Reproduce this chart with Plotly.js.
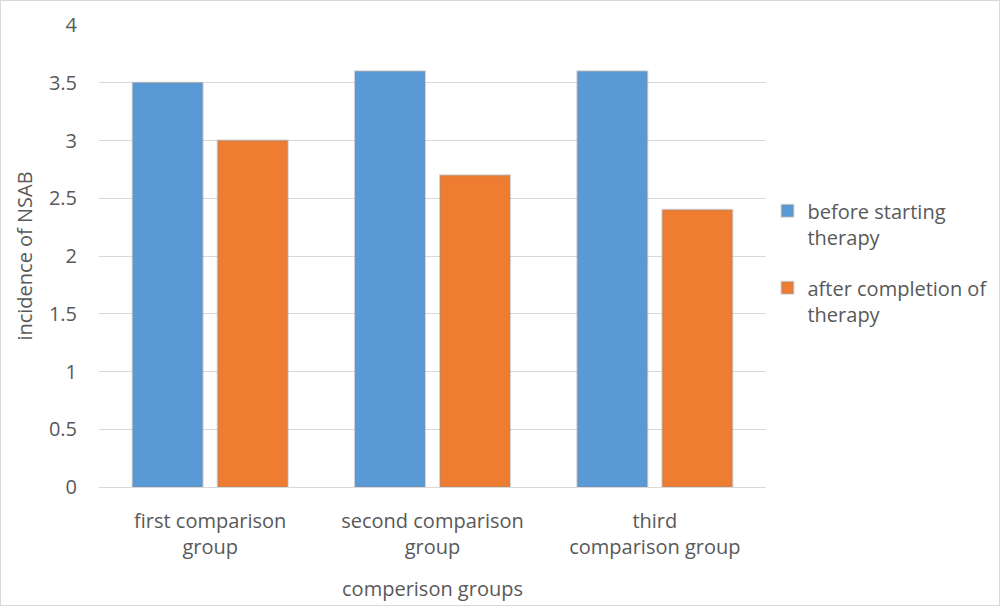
<!DOCTYPE html>
<html>
<head>
<meta charset="utf-8">
<script src="https://cdn.plot.ly/plotly-3.0.1.min.js"></script>
<style>
html,body{margin:0;padding:0;background:#fff;}
#chart{width:1000px;height:606px;box-sizing:border-box;border:1px solid #d9d9d9;}
</style>
</head>
<body>
<div id="chart"></div>
<script>
const categories = ["first comparison<br>group", "second comparison<br>group", "third<br>comparison group"];
const seriesNames = ["before starting<br>therapy", "after completion of<br>therapy"];
const beforeValues = [3.5, 3.6, 3.6];
const afterValues = [3.0, 2.7, 2.4];
const yTickVals = [0, 0.5, 1, 1.5, 2, 2.5, 3, 3.5, 4];
const yTickText = ["0", "0.5", "1", "1.5", "2", "2.5", "3", "3.5", "4"];

const fontFam = "'Open Sans', Lato, sans-serif";
const fsz = 20;
const txtCol = '#595959';
const shadow = {color: 'rgba(140,140,140,0.35)', width: 2};

const traces = [
  {type: 'bar', x: categories, y: beforeValues, name: seriesNames[0], legendgroup: 'a',
   marker: {color: '#5899d6', line: shadow}, hoverinfo: 'skip'},
  {type: 'bar', x: categories, y: afterValues, name: seriesNames[1], legendgroup: 'b',
   marker: {color: '#ee7d32', line: shadow}, hoverinfo: 'skip'}
];

const layout = {
  width: 998, height: 604,
  margin: {l: 98, r: 233, t: 24, b: 118},
  paper_bgcolor: '#fff', plot_bgcolor: '#fff',
  font: {family: fontFam, size: fsz, color: txtCol},
  barmode: 'group', bargap: 0.235, bargroupgap: 0.176,
  showlegend: true,
  legend: {xref: 'container', yref: 'paper', x: 0.768, y: 0.64, xanchor: 'left', yanchor: 'top',
           traceorder: 'grouped', tracegroupgap: 22, valign: 'top',
           font: {family: fontFam, size: fsz, color: txtCol},
           itemwidth: 30, bgcolor: 'rgba(0,0,0,0)'},
  xaxis: {
    type: 'category', showgrid: false, showline: true, linecolor: '#d9d9d9', linewidth: 1,
    ticks: '', ticklabelstandoff: 16, tickfont: {family: fontFam, size: fsz, color: txtCol},
    title: {text: 'comperison groups', font: {family: fontFam, size: fsz, color: txtCol}, standoff: 22},
    automargin: false
  },
  yaxis: {
    range: [0, 4], tickvals: yTickVals, ticktext: yTickText,
    showgrid: true, gridcolor: '#d9d9d9', gridwidth: 1, zeroline: false,
    showline: false, ticks: '', ticklabelstandoff: 21,
    tickfont: {family: fontFam, size: fsz, color: txtCol},
    title: {text: 'incidence of NSAB', font: {family: fontFam, size: fsz, color: txtCol}, standoff: 10},
    automargin: false
  }
};

Plotly.newPlot('chart', traces, layout, {staticPlot: true, displayModeBar: false});
</script>
</body>
</html>
